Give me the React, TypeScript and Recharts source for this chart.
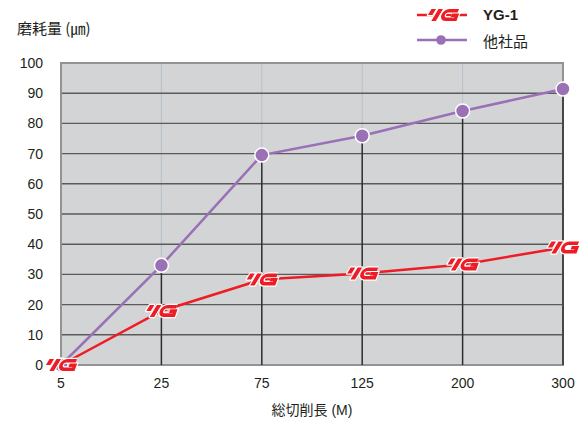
import React from "react";
import {
  ComposedChart,
  Line,
  XAxis,
  YAxis,
  CartesianGrid,
  ReferenceLine,
  ReferenceArea,
} from "recharts";

// 総切削長 (M)
const categories = ["5", "25", "75", "125", "200", "300"];
// 磨耗量 (㎛)
const yg1Values = [0, 17.9, 28.3, 30.3, 33.3, 38.9];
const otherValues = [0, 33, 69.5, 75.9, 84.1, 91.4];
const yTicks = [0, 10, 20, 30, 40, 50, 60, 70, 80, 90, 100];

const data = categories.map((c, i) => ({ name: c, yg1: yg1Values[i], other: otherValues[i] }));

const FONT = '"Liberation Sans", "Noto Sans CJK JP", sans-serif';
const TEXT = "#231f20";
const RED = "#ee1c25";
const PURPLE = "#9a70b6";

function YgLogo({ cx, cy }: { cx: number; cy: number }) {
  const g = "M15.5 1.8 L6 1.8 A4.2 4.2 0 0 0 6 10.2 L15.5 10.2 L15.5 6.2 L10 6.2";
  const slashes = ["5.5,0 10,0 6.4,6 1.9,6", "12.5,0 17,0 9.8,12 5.3,12"];
  return (
    <g transform={`translate(${cx - 17}, ${cy - 6})`}>
      {slashes.map((p) => (
        <polygon key={p} points={p} fill={RED} stroke="#fff" strokeWidth={2.4} strokeLinejoin="round" paintOrder="stroke" />
      ))}
      <g transform="translate(17.5,0) skewX(-20)">
        <path d={g} fill="none" stroke="#fff" strokeWidth={6} />
        <path d={g} fill="none" stroke={RED} strokeWidth={3.6} />
      </g>
    </g>
  );
}

function OtherDot(props: any) {
  const { cx, cy, index } = props;
  return <circle key={`o-${index}`} cx={cx} cy={cy} r={7} fill={PURPLE} stroke="#fff" strokeWidth={1.5} />;
}

function YgDot(props: any) {
  const { cx, cy, index } = props;
  return <YgLogo key={`y-${index}`} cx={cx} cy={cy} />;
}

export default function App() {
  return (
    <div style={{ position: "absolute", left: 0, top: 0, width: 581, height: 422, fontFamily: FONT, color: TEXT }}>
      <ComposedChart width={581} height={422} data={data} margin={{ top: 63, right: 18, bottom: 0, left: 0 }}>
        <CartesianGrid fill="#d3d4d6" horizontal={false} stroke="#b4c0c9" strokeWidth={1} strokeDasharray="" />
        <CartesianGrid vertical={false} stroke="#5a5a5a" strokeWidth={1.4} strokeDasharray="" />
        <XAxis
          dataKey="name"
          type="category"
          padding={{ left: 0, right: 0 }}
          scale="point"
          height={57}
          axisLine={false}
          tickLine={false}
          tickSize={0}
          tickMargin={13}
          tick={{ fontSize: 14, fill: TEXT, fontFamily: FONT }}
          label={{ value: "総切削長 (M)", position: "insideBottom", offset: 7, fontSize: 14, fill: TEXT, fontFamily: FONT }}
        />
        <YAxis
          domain={[0, 100]}
          ticks={yTicks}
          width={61}
          axisLine={false}
          tickLine={false}
          tickSize={0}
          tickMargin={18}
          interval={0}
          tick={{ fontSize: 14, fill: TEXT, fontFamily: FONT }}
        />
        <ReferenceArea x1="5" x2="300" y1={0} y2={100} fill="none" stroke="#939393" strokeWidth={2} />
        {categories.map((c, i) => (
          <ReferenceLine
            key={c}
            segment={[
              { x: c, y: 0 },
              { x: c, y: otherValues[i] },
            ]}
            stroke="#2e2e2e"
            strokeWidth={1.5}
          />
        ))}
        <Line
          type="linear"
          dataKey="other"
          stroke={PURPLE}
          strokeWidth={2.5}
          dot={OtherDot}
          activeDot={false}
          isAnimationActive={false}
        />
        <Line
          type="linear"
          dataKey="yg1"
          stroke={RED}
          strokeWidth={2.5}
          dot={YgDot}
          activeDot={false}
          isAnimationActive={false}
        />
      </ComposedChart>

      <div
        style={{
          position: "absolute",
          left: 17,
          top: 19,
          fontSize: 15,
          whiteSpace: "nowrap",
          fontFamily: '"Noto Sans CJK JP", sans-serif',
          lineHeight: "18px",
        }}
      >
        磨耗量 (㎛)
      </div>

      <svg style={{ position: "absolute", left: 410, top: 4 }} width={62} height={48}>
        <line x1={7} y1={11} x2={57} y2={11} stroke={RED} strokeWidth={2.5} />
        <YgLogo cx={33} cy={11} />
        <line x1={7} y1={36} x2={57} y2={36} stroke={PURPLE} strokeWidth={2.5} />
        <circle cx={31} cy={36} r={4.8} fill={PURPLE} />
      </svg>
      <div style={{ position: "absolute", left: 483, top: 6, fontSize: 15, fontWeight: 700, whiteSpace: "nowrap" }}>YG-1</div>
      <div style={{ position: "absolute", left: 483, top: 30, fontSize: 15, whiteSpace: "nowrap" }}>他社品</div>
    </div>
  );
}
